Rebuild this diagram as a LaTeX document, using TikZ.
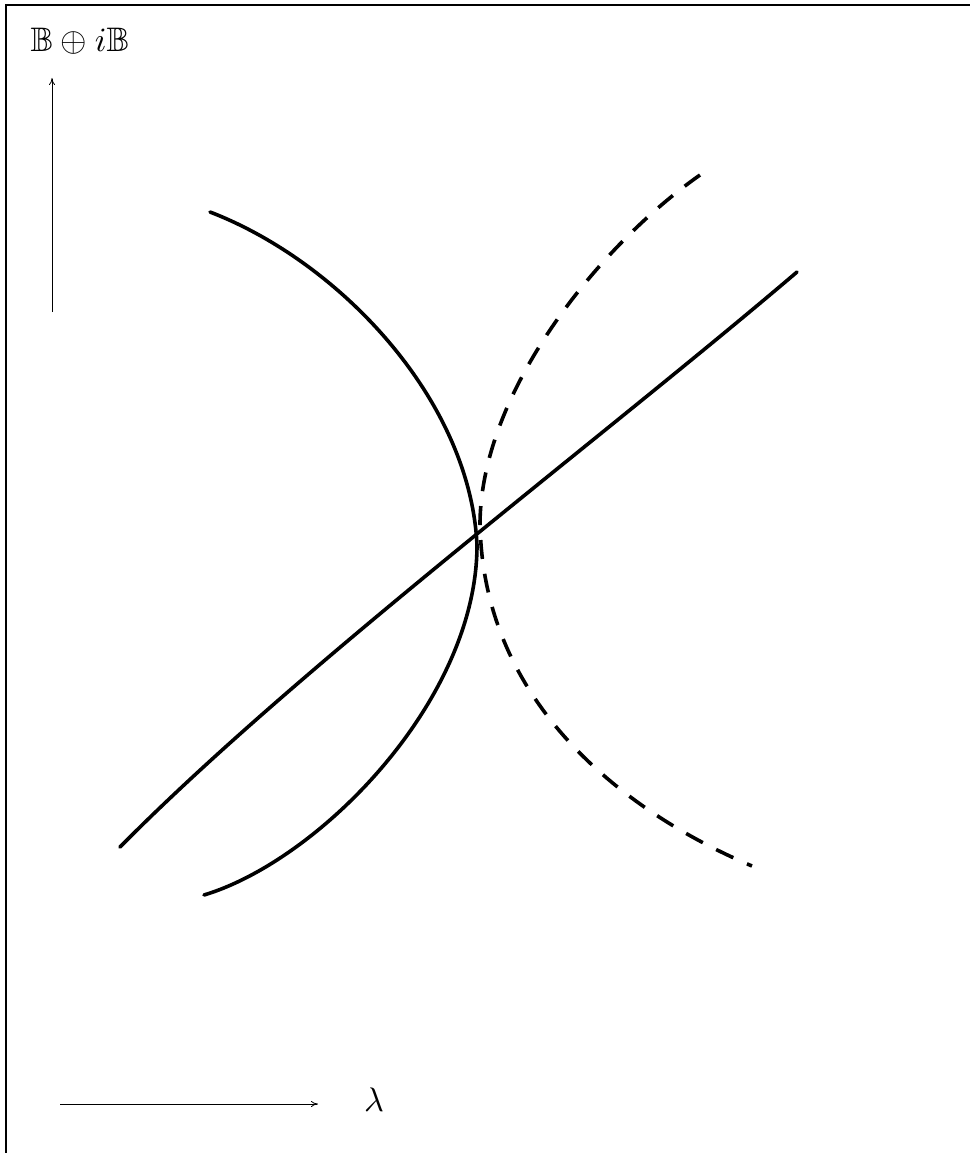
\documentclass[tikz,border=0pt]{standalone}
\usepackage{amssymb}
\usetikzlibrary{arrows.meta}
\begin{document}
\begin{tikzpicture}[x=1pt,y=-1pt,
  curve/.style={line width=3.6pt,line cap=round,line join=round},
  dashcurve/.style={curve,line cap=butt,dash pattern=on 19pt off 15pt},
  axis/.style={line width=0.8pt,-{To[length=7pt,width=6pt]}},
  lbl/.style={inner sep=0pt,scale=3.4}]
\useasboundingbox (0,0) rectangle (970,1153);
% frame
\draw[line width=2pt] (6,1153) -- (6,5) -- (970,5);
% labels
\node[lbl] (ylab) at (80,41) {$\mathbb{B}\oplus i\mathbb{B}$};
\node[lbl] (xlab) at (374,1100) {$\lambda$};
% axes
\coordinate (ys) at (52,312);
\coordinate (ye) at (52,78);
\coordinate (xs) at (60,1104);
\coordinate (xe) at (318,1104);
\draw[axis] (ys) -- (ye);
\draw[axis] (xs) -- (xe);
% solid arc
\draw[curve] (210,212) .. controls (340,262) and (470,400) .. (477,545)
  .. controls (477,700) and (320,860) .. (204,895);
% nearly straight line
\draw[curve] (120,847) .. controls (300,665) and (600,440) .. (797,272);
% dashed arc
\draw[dashcurve] (700,175) .. controls (600,245) and (482,390) .. (480,522)
  .. controls (482,700) and (620,810) .. (752,866);
\end{tikzpicture}
\end{document}
